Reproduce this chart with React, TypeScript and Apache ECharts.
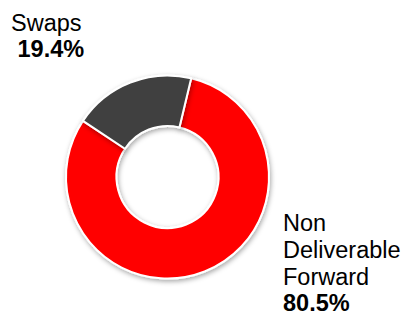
import React, { useEffect, useRef } from "react";
import * as echarts from "echarts";

const categories = ["Non\nDeliverable\nForward", "Swaps"];
const values = [80.5, 19.4];
const colors = ["#FF0000", "#404040"];

export default function App() {
  const ref = useRef<HTMLDivElement>(null);
  useEffect(() => {
    if (!ref.current) return;
    const chart = echarts.init(ref.current, null, { renderer: "svg" });
    const labelPos = [
      { x: 283, y: 209 },
      { x: 11, y: 10 },
    ];
    const fs = 23.5;
    chart.setOption({
      animation: false,
      series: [
        {
          type: "pie",
          center: [167.5, 177],
          radius: [51, 101.5],
          startAngle: 76.5,
          clockwise: true,
          avoidLabelOverlap: false,
          data: categories.map((c, i) => ({
            name: c,
            value: values[i],
            itemStyle: { color: colors[i] },
          })),
          itemStyle: {
            borderColor: "#ffffff",
            borderWidth: 2,
            shadowBlur: 5,
            shadowColor: "rgba(0,0,0,0.35)",
            shadowOffsetX: 1,
            shadowOffsetY: 2,
          },
          label: {
            show: true,
            position: "outside",
            formatter: (p: any) =>
              p.dataIndex === 1
                ? `{n|${p.name}}\n{v| ${p.value.toFixed(1)}%}`
                : p.name
                    .split("\n")
                    .map((s: string) => `{m|${s}}`)
                    .join("\n") + `\n{w|${p.value.toFixed(1)}%}`,
            rich: {
              n: { fontFamily: "Liberation Sans", fontSize: fs, color: "#000", lineHeight: 26 },
              v: { fontFamily: "Liberation Sans", fontSize: fs, fontWeight: "bold", color: "#000", lineHeight: 26 },
              m: { fontFamily: "Liberation Sans", fontSize: fs, color: "#000", lineHeight: 27.3 },
              w: { fontFamily: "Liberation Sans", fontSize: fs, fontWeight: "bold", color: "#000", lineHeight: 24 },
            },
          },
          labelLine: { show: false },
          labelLayout: (params: any) => ({
            x: labelPos[params.dataIndex].x,
            y: labelPos[params.dataIndex].y,
            align: "left",
            verticalAlign: "top",
          }),
          emphasis: { disabled: true },
        },
      ],
    });
    return () => chart.dispose();
  }, []);
  return (
    <div
      ref={ref}
      style={{ position: "fixed", left: 0, top: 0, width: 407, height: 316, background: "#fff" }}
    />
  );
}
